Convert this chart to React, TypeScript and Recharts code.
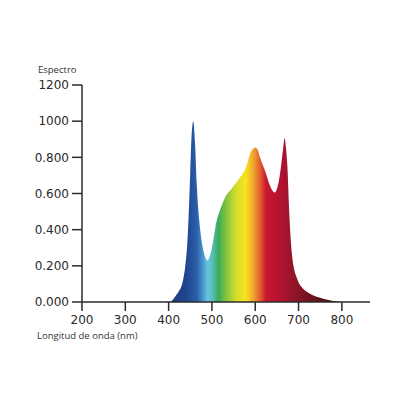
import { AreaChart, Area, XAxis, YAxis } from 'recharts'

// wavelength (nm) and relative intensity
const wavelengths = [
  400, 407, 418, 425, 430, 434, 438, 443, 447, 450, 453, 457, 461, 465, 472, 479, 485, 489, 493,
  499, 505, 510, 516, 522, 533, 545, 553, 565, 576, 582, 588, 594, 600, 606,
  611, 617, 622, 633, 640, 645, 650, 655, 660, 664, 668, 671, 674, 679, 685,
  690, 695, 702, 710, 720, 733, 750, 764, 780, 800,
]
const intensity = [
  0, 0.006, 0.04, 0.065, 0.09, 0.13, 0.19, 0.32, 0.52, 0.72, 0.92, 1.0, 0.88, 0.65, 0.42, 0.3, 0.245, 0.23, 0.24,
  0.29, 0.37, 0.44, 0.49, 0.53, 0.59, 0.625, 0.65, 0.69, 0.73, 0.77, 0.82, 0.845, 0.855, 0.84,
  0.8, 0.76, 0.73, 0.65, 0.615, 0.605, 0.625, 0.675, 0.76, 0.84, 0.905, 0.85, 0.76, 0.47, 0.26,
  0.18, 0.14, 0.1, 0.075, 0.055, 0.038, 0.024, 0.014, 0.006, 0,
]

const xTicks = [200, 300, 400, 500, 600, 700, 800]
const yTicks = [0, 0.2, 0.4, 0.6, 0.8, 1.0, 1.2]
const yLabels = ['0.000', '0.200', '0.400', '0.600', '0.800', '1000', '1200']

// spectrum colours along the wavelength axis
const stopNm = [400, 440, 465, 480, 490, 500, 515, 535, 555, 578, 597, 612, 625, 660, 695, 770, 800]
const stopColors = [
  '#1d3a7a', '#1f4590', '#2b5ea8', '#4a9ad0', '#6cc2e2', '#5cc0c0', '#3aab58', '#8cc63f',
  '#d2dc2c', '#f8e41c', '#eca032', '#e35a2c', '#c8182e', '#b21232', '#8c1526', '#4d0f16', '#3d0c12',
]

const data = wavelengths.map((nm, i) => ({ nm, value: intensity[i] }))

const first = wavelengths[0]
const span = wavelengths[wavelengths.length - 1] - first

const tickStyle = { fill: '#2a2a2a', fontSize: 12, fontFamily: '"DejaVu Sans", sans-serif' }
const axisStroke = { stroke: '#2b2b2b', strokeWidth: 1.5 }

export default function App() {
  return (
    <div style={{ position: 'absolute', left: 0, top: 0, width: 400, height: 400, background: '#fff' }}>
      <AreaChart
        width={400}
        height={400}
        data={data}
        margin={{ top: 85, right: 30, left: 0, bottom: 68 }}
      >
        <defs>
          <linearGradient id="spectrum" x1="0" y1="0" x2="1" y2="0">
            {stopNm.map((nm, i) => (
              <stop key={nm} offset={(nm - first) / span} stopColor={stopColors[i]} />
            ))}
          </linearGradient>
        </defs>
        <XAxis
          dataKey="nm"
          type="number"
          domain={[200, 865]}
          ticks={xTicks}
          height={30}
          tick={tickStyle}
          axisLine={axisStroke}
          tickLine={axisStroke}
          tickSize={9}
          tickMargin={4}
        />
        <YAxis
          type="number"
          domain={[0, 1.2]}
          ticks={yTicks}
          width={82}
          tick={tickStyle}
          tickFormatter={(v: number) => yLabels[yTicks.indexOf(v)] ?? ''}
          axisLine={axisStroke}
          tickLine={axisStroke}
          tickSize={10}
          tickMargin={3}
        />
        <Area
          type="monotone"
          dataKey="value"
          stroke="none"
          fill="url(#spectrum)"
          fillOpacity={1}
          isAnimationActive={false}
        />
      </AreaChart>
      <div style={{ position: 'absolute', left: 38, top: 63, fontSize: 9.5, color: '#333', fontFamily: '"Open Sans", sans-serif' }}>
        Espectro
      </div>
      <div style={{ position: 'absolute', left: 37, top: 329, fontSize: 9.5, color: '#333', fontFamily: '"Open Sans", sans-serif' }}>
        Longitud de onda (nm)
      </div>
    </div>
  )
}
